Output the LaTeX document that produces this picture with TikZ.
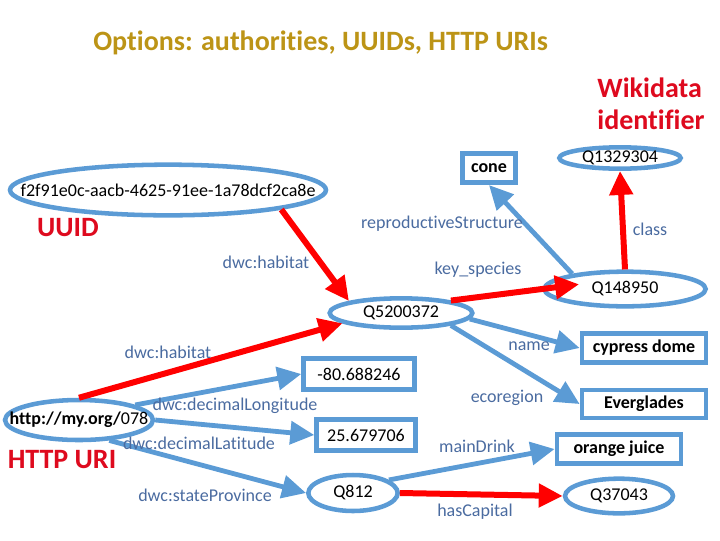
\documentclass[tikz,border=0pt]{standalone}
\usepackage{fontspec}
\setmainfont{Carlito}[RawFeature={-liga;-clig;-rlig;-calt}]
\usetikzlibrary{arrows.meta,shapes.geometric,positioning}
\definecolor{linkblue}{RGB}{91,155,213}
\definecolor{linkred}{RGB}{255,0,0}
\definecolor{lblblue}{RGB}{74,107,160}
\definecolor{titlegold}{RGB}{188,148,22}
\definecolor{tagred}{RGB}{222,10,30}
\newcommand{\idtext}[1]{\makebox[0pt]{#1}}
\tikzset{qid/.style={ellipse,draw=linkblue,line width=3.4pt,inner sep=0pt,font=\fontsize{13.5pt}{16pt}\selectfont}}
\tikzset{lit/.style={rectangle,draw=linkblue,line width=3.6pt,inner sep=0pt,font=\fontsize{13.5pt}{16pt}\selectfont}}
\tikzset{prop/.style={text=lblblue,inner sep=0pt,font=\fontsize{13.5pt}{16pt}\selectfont}}
\tikzset{tag/.style={text=tagred,inner sep=0pt,font=\bfseries\fontsize{21pt}{24pt}\selectfont}}
\tikzset{redArrow/.style={-{Triangle[length=18pt,width=17pt]},line width=4.5pt,draw=linkred}}
\tikzset{blueArrow/.style={-{Triangle[length=18pt,width=17pt]},line width=3.6pt,draw=linkblue}}
\begin{document}
\begin{tikzpicture}[x=0.75pt,y=-0.75pt]
\useasboundingbox (0,0) rectangle (720,540);
% headings
\node (title) [anchor=west,inner sep=0pt,text=titlegold,font=\bfseries\fontsize{21pt}{24pt}\selectfont] at (93,43) {Options: authorities, UUIDs, HTTP URIs};
\node (wikiTag) [tag,align=left] at (651,104) {Wikidata\\identifier};
% identifiers
\node (uuid) [qid,minimum width=237pt,minimum height=38pt] at (168,190) {\idtext{f2f91e0c-aacb-4625-91ee-1a78dcf2ca8e}};
\node (uuidTag) [tag] at (68,228) {UUID};
\node (http) [qid,minimum width=111pt,minimum height=30pt] at (79,420) {\idtext{\textbf{http://my.org/}078}};
\node (httpTag) [tag] at (62,460) {HTTP URI};
\node (q1329304) [qid,minimum width=91pt,minimum height=16pt] at (620,158) {\idtext{Q1329304}};
\node (q148950) [qid,minimum width=121pt,minimum height=26pt] at (625,289) {\idtext{Q148950}};
\node (q5200372) [qid,minimum width=107pt,minimum height=22pt] at (401,313) {\idtext{Q5200372}};
\node (q812) [qid,minimum width=67pt,minimum height=27pt] at (353,493) {\idtext{Q812}};
\node (q37043) [qid,minimum width=81pt,minimum height=26pt] at (619,496) {\idtext{Q37043}};
% literals
\node (cone) [lit,minimum width=40pt,minimum height=22pt] at (489,168) {\textbf{cone}};
\node (lon) [lit,minimum width=83pt,minimum height=23pt] at (359,374) {-80.688246};
\node (lat) [lit,minimum width=74pt,minimum height=23pt] at (366,435) {25.679706};
\node (cypress) [lit,minimum width=93pt,minimum height=22pt] at (644,348) {\textbf{cypress dome}};
\node (everglades) [lit,minimum width=93pt,minimum height=21pt] at (644,404) {\textbf{Everglades}};
\node (juice) [lit,minimum width=93pt,minimum height=22pt] at (619,449) {\textbf{orange juice}};
% links
\draw [redArrow] (uuid.south east) -- (q5200372.north west);
\draw [redArrow] (http.north) -- (q5200372.190);
\draw [redArrow,shorten >=-28pt] (q5200372.14) -- (q148950.west);
\draw [blueArrow] (q148950.164) -- (cone.south);
\draw [redArrow] (q148950.north) -- (q1329304.south);
\draw [blueArrow] (http.15) -- (lon.west);
\draw [blueArrow] (http.east) -- (lat.west);
\draw [blueArrow] (http.-34) -- (q812.west);
\draw [blueArrow] (q5200372.-5) -- (cypress.west);
\draw [blueArrow] (q5200372.-14) -- (everglades.west);
\draw [blueArrow] (q812.20) -- (juice.west);
\draw [redArrow] (q812.east) -- (q37043.west);
% property labels
\node (habitatA) [prop] at (266,262) {dwc:habitat};
\node (habitatB) [prop] at (168,352) {dwc:habitat};
\node (repro) [prop] at (442,224) {reproductiveStructure};
\node (keysp) [prop] at (478,270) {key\_species};
\node (class) [prop] at (650,229) {class};
\node (longi) [prop] at (235,406) {dwc:decimalLongitude};
\node (latit) [prop] at (199,443) {dwc:decimalLatitude};
\node (state) [prop] at (205,495) {dwc:stateProvince};
\node (name) [prop] at (529,346) {name};
\node (ecoreg) [prop] at (507,398) {ecoregion};
\node (drink) [prop] at (477,446) {mainDrink};
\node (capital) [prop] at (475,512) {hasCapital};
\end{tikzpicture}
\end{document}
